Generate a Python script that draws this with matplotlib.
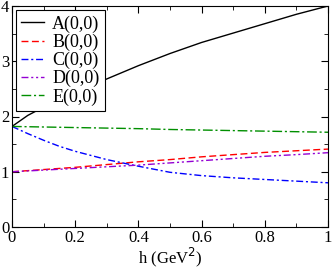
import matplotlib
matplotlib.use("Agg")
import matplotlib.pyplot as plt
from matplotlib.ticker import MultipleLocator

h = [0.0, 0.05, 0.1, 0.15, 0.2, 0.3, 0.4, 0.5, 0.6, 0.7, 0.8, 0.9, 1.0]
A = [1.82, 2.02, 2.17, 2.30, 2.43, 2.68, 2.92, 3.14, 3.34, 3.51, 3.68, 3.85, 4.0]
B = [1.0, 1.02, 1.04, 1.06, 1.08, 1.13, 1.18, 1.22, 1.27, 1.31, 1.35, 1.38, 1.41]
C = [1.82, 1.69, 1.57, 1.46, 1.37, 1.22, 1.10, 0.99, 0.93, 0.89, 0.86, 0.83, 0.80]
D = [1.0, 1.015, 1.03, 1.045, 1.06, 1.09, 1.12, 1.16, 1.20, 1.24, 1.28, 1.31, 1.345]
E = [1.82, 1.815, 1.81, 1.805, 1.80, 1.79, 1.78, 1.765, 1.755, 1.745, 1.735, 1.725, 1.715]
labels = ["A(0,0)", "B(0,0)", "C(0,0)", "D(0,0)", "E(0,0)"]
xticks = [0, 0.2, 0.4, 0.6, 0.8, 1.0]
xticklabels = ['0', '0.2', '0.4', '0.6', '0.8', '1']
yticks = [0, 1, 2, 3, 4]
yticklabels = ['0', '1', '2', '3', '4']

plt.rcParams['font.family'] = ['Liberation Serif', 'DejaVu Serif']
fig = plt.figure(figsize=(3.32, 2.70), dpi=100)
ax = fig.add_axes([12/332, 43/270, 316/332, 221/270])

ax.plot(h, A, color='black', lw=1.0, ls='-', label=labels[0])
ax.plot(h, B, color='red', lw=1.0, ls=(0, (5, 2.5)), label=labels[1])
ax.plot(h, C, color='blue', lw=1.0, ls=(0, (5, 2, 1.5, 2)), label=labels[2])
ax.plot(h, D, color='#9400d3', lw=1.0, ls=(0, (5, 2, 1.5, 2, 1.5, 2)), label=labels[3])
ax.plot(h, E, color='#008f00', lw=1.0, ls=(0, (7, 2, 1.5, 2)), label=labels[4])

ax.set_xlim(0, 1)
ax.set_ylim(0, 4)
ax.set_xticks(xticks)
ax.set_xticklabels(xticklabels)
ax.set_yticks(yticks)
ax.set_yticklabels(yticklabels)
ax.xaxis.set_minor_locator(MultipleLocator(0.1))
ax.yaxis.set_minor_locator(MultipleLocator(0.5))
ax.tick_params(which='both', direction='in', top=True, right=True, labelsize=12, pad=2)
ax.tick_params(which='major', length=5)
ax.tick_params(which='minor', length=3)
ax.set_xlabel('h (GeV$^2$)', fontsize=12, labelpad=0)

leg = ax.legend(loc='upper left', fontsize=13, frameon=True, fancybox=False,
                edgecolor='black', framealpha=1, handlelength=1.25, borderpad=0.3,
                labelspacing=0.05, handletextpad=0.45, borderaxespad=0.22)
leg.get_frame().set_linewidth(0.8)

fig.savefig('out.png', dpi=100)
